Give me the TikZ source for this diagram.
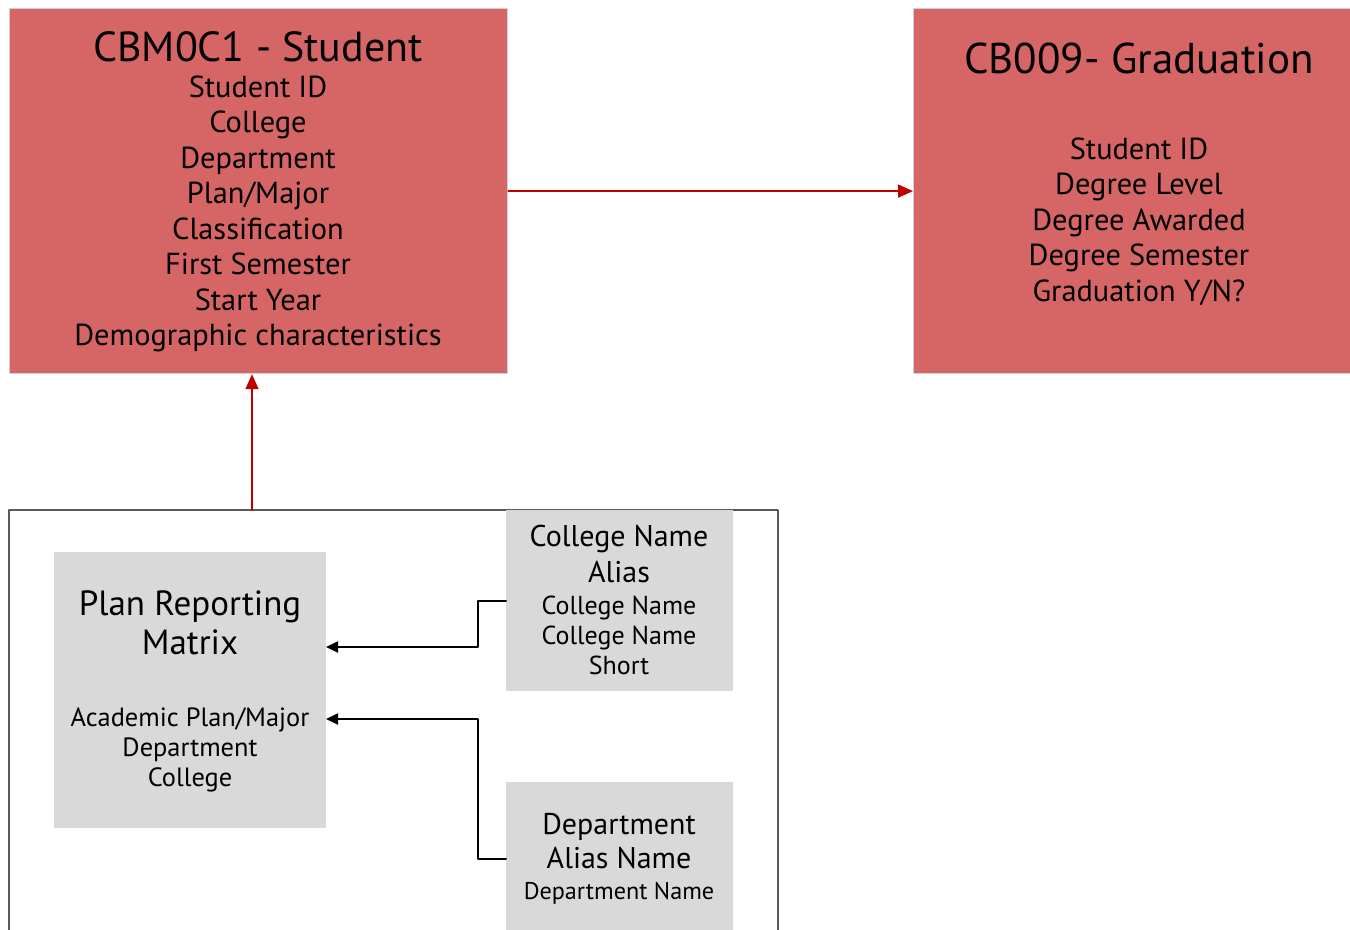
\documentclass[tikz,border=0pt]{standalone}
\usepackage{fontspec}
\setmainfont{PT Sans}
\usetikzlibrary{arrows.meta,calc}
\definecolor{boxred}{RGB}{214,101,101}
\definecolor{boxgray}{RGB}{217,217,217}
\definecolor{linered}{RGB}{192,0,0}
\definecolor{framegray}{RGB}{90,90,90}
\begin{document}
\begin{tikzpicture}[line cap=round,line join=round,x=0.5pt,y=-0.5pt,
    redbox/.style={draw=black!18,line width=0.6pt,fill=boxred,anchor=north west,inner sep=0pt},
    graybox/.style={fill=boxgray,anchor=north west,inner sep=0pt},
    txt/.style={align=center,inner sep=0pt},
    redarrow/.style={draw=linered,line width=0.8pt,-{Triangle[length=7.5pt,width=6.5pt]}},
    blackarrow/.style={draw=black,line width=1pt,-{Triangle[length=6pt,width=5.5pt]}}]
\useasboundingbox (0,0) rectangle (1350,930);
\node[redbox,minimum width=249pt,minimum height=182.5pt] (student) at (9,8) {};
\node[redbox,minimum width=222pt,minimum height=182.5pt] (grad) at (913,8) {};
\draw[framegray,line width=1pt] (9,935) -- (9,510) -- (778,510) -- (778,935);
\node[graybox,minimum width=136pt,minimum height=138pt] (plan) at (54,552) {};
\node[graybox,minimum width=113.5pt,minimum height=90.5pt] (college) at (506,510) {};
\node[graybox,minimum width=113.5pt,minimum height=76.5pt] (dept) at (506,782) {};
\node[txt,font=\fontsize{21}{25}\selectfont] (studenttitle) at (258,47) {CBM0C1 - Student};
\node[txt,font=\fontsize{15.2}{17.75}\selectfont] (studentitems) at (258,214)
  {Student ID\\College\\Department\\Plan/Major\\Classification\\First Semester\\Start Year\\Demographic characteristics};
\node[txt,font=\fontsize{21.5}{25}\selectfont] (gradtitle) at (1139,58) {CB009- Graduation};
\node[txt,font=\fontsize{15.2}{17.75}\selectfont] (graditems) at (1139,221.5)
  {Student ID\\Degree Level\\Degree Awarded\\Degree Semester\\Graduation Y/N?};
\node[txt,font=\fontsize{17.5}{19.5}\selectfont] (plantitle) at (190,623) {Plan Reporting\\Matrix};
\node[txt,font=\fontsize{13.2}{15}\selectfont] (planitems) at (190,750) {Academic Plan/Major\\Department\\College};
\node[txt,font=\fontsize{15}{18}\selectfont] (collegetitle) at (619,554) {College Name\\Alias};
\node[txt,font=\fontsize{13}{15}\selectfont] (collegeitems) at (619,635) {College Name\\College Name\\Short};
\node[txt,font=\fontsize{15}{17}\selectfont] (depttitle) at (619,841) {Department\\Alias Name};
\node[txt,font=\fontsize{12.1}{14}\selectfont] (deptitems) at (619,893) {Department Name};
\coordinate (up) at (252,510);
\coordinate (planin1) at (326,647);
\coordinate (planin2) at (326,719);
\draw[redarrow] (student.east) -- (grad.west);
\draw[redarrow] (up) -- (up |- student.south);
\draw[blackarrow] (college.west) -- ++(-28,0) |- (planin1);
\draw[blackarrow] (dept.west) -- ++(-28,0) |- (planin2);
\end{tikzpicture}
\end{document}
